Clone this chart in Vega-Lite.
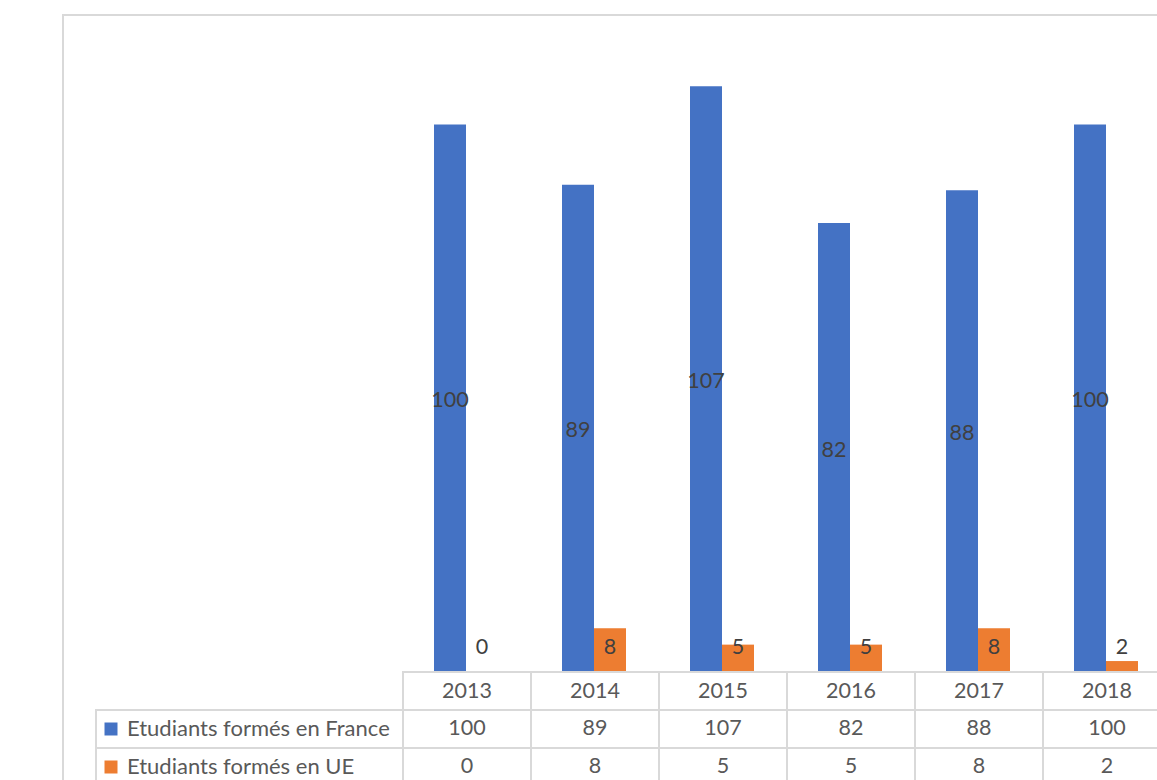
{
  "$schema": "https://vega.github.io/schema/vega-lite/v6.json",
  "width": 1124,
  "height": 795,
  "autosize": "none",
  "padding": {"left": 63, "top": 15, "right": -30, "bottom": -30},
  "background": "white",
  "config": {
    "view": {"stroke": "#d9d9d9", "strokeWidth": 2},
    "font": "Lato",
    "text": {"font": "Lato"}
  },
  "datasets": {
    "main": [
      {"year": "2013", "series": "Etudiants formés en France", "value": 100},
      {"year": "2014", "series": "Etudiants formés en France", "value": 89},
      {"year": "2015", "series": "Etudiants formés en France", "value": 107},
      {"year": "2016", "series": "Etudiants formés en France", "value": 82},
      {"year": "2017", "series": "Etudiants formés en France", "value": 88},
      {"year": "2018", "series": "Etudiants formés en France", "value": 100},
      {"year": "2013", "series": "Etudiants formés en UE", "value": 0},
      {"year": "2014", "series": "Etudiants formés en UE", "value": 8},
      {"year": "2015", "series": "Etudiants formés en UE", "value": 5},
      {"year": "2016", "series": "Etudiants formés en UE", "value": 5},
      {"year": "2017", "series": "Etudiants formés en UE", "value": 8},
      {"year": "2018", "series": "Etudiants formés en UE", "value": 2}
    ]
  },
  "data": {"name": "main"},
  "resolve": {"scale": {"x": "independent", "y": "independent"}},
  "layer": [
    {
      "layer": [
        {
          "mark": {"type": "bar"},
          "encoding": {
            "x": {"field": "year", "type": "ordinal", "axis": null,
              "scale": {"domain": ["2013","2014","2015","2016","2017","2018"], "range": [339, 1107], "paddingInner": 0, "paddingOuter": 0}},
            "xOffset": {"field": "series", "type": "nominal",
              "scale": {"domain": ["Etudiants formés en France", "Etudiants formés en UE"], "paddingInner": 0, "paddingOuter": 1}},
            "y": {"field": "value", "type": "quantitative", "axis": null,
              "scale": {"domain": [0, 120], "range": [657, 0], "nice": false, "zero": true}},
            "color": {"field": "series", "type": "nominal",
              "scale": {"domain": ["Etudiants formés en France", "Etudiants formés en UE"], "range": ["#4472C4", "#ED7D31"]},
              "legend": {
                "orient": "none", "legendX": 37, "legendY": 703, "title": null,
                "symbolType": "square", "symbolSize": 169, "symbolStrokeWidth": 0,
                "labelFont": "Lato", "labelFontSize": 22, "labelColor": "#595959",
                "labelOffset": 5, "rowPadding": 16, "padding": 0, "labelLimit": 400
              }}
          }
        },
        {
          "transform": [
            {"filter": "datum.series === 'Etudiants formés en France'"},
            {"calculate": "datum.value / 2", "as": "mid"}
          ],
          "mark": {"type": "text", "fontSize": 21.5, "color": "#404040", "baseline": "middle", "align": "center", "dy": 3},
          "encoding": {
            "x": {"field": "year", "type": "ordinal"},
            "xOffset": {"field": "series", "type": "nominal"},
            "y": {"field": "mid", "type": "quantitative"},
            "text": {"field": "value", "type": "quantitative"}
          }
        },
        {
          "transform": [
            {"filter": "datum.series === 'Etudiants formés en UE'"}
          ],
          "mark": {"type": "text", "fontSize": 21.5, "color": "#404040", "baseline": "middle", "align": "center"},
          "encoding": {
            "x": {"field": "year", "type": "ordinal"},
            "xOffset": {"field": "series", "type": "nominal"},
            "y": {"datum": 4.4, "type": "quantitative"},
            "text": {"field": "value", "type": "quantitative"}
          }
        }
      ]
    },
    {
      "layer": [
        {
          "mark": {"type": "rect", "fill": "white", "fillOpacity": 0, "stroke": "#d9d9d9", "strokeWidth": 2},
          "encoding": {
            "x": {"field": "year", "type": "ordinal", "axis": null,
              "scale": {"domain": ["2013","2014","2015","2016","2017","2018"], "range": [340, 1108], "paddingInner": 0, "paddingOuter": 0}},
            "y": {"field": "series", "type": "nominal", "axis": null,
              "scale": {"domain": ["header", "Etudiants formés en France", "Etudiants formés en UE"], "range": [657, 771], "paddingInner": 0, "paddingOuter": 0}}
          }
        },
        {
          "transform": [{"filter": "datum.series === 'Etudiants formés en France'"}],
          "mark": {"type": "rect", "fill": "white", "fillOpacity": 0, "stroke": "#d9d9d9", "strokeWidth": 2},
          "encoding": {
            "x": {"field": "year", "type": "ordinal"},
            "y": {"datum": "header", "type": "nominal"}
          }
        },
        {
          "transform": [{"filter": "datum.series === 'Etudiants formés en France'"}],
          "mark": {"type": "text", "fontSize": 21.5, "color": "#595959", "baseline": "middle", "align": "center", "dy": 1},
          "encoding": {
            "x": {"field": "year", "type": "ordinal", "bandPosition": 0.5},
            "y": {"datum": "header", "type": "nominal", "bandPosition": 0.5},
            "text": {"field": "year", "type": "nominal"}
          }
        },
        {
          "mark": {"type": "text", "fontSize": 21.5, "color": "#595959", "baseline": "middle", "align": "center"},
          "encoding": {
            "x": {"field": "year", "type": "ordinal", "bandPosition": 0.5},
            "y": {"field": "series", "type": "nominal", "bandPosition": 0.5},
            "text": {"field": "value", "type": "quantitative"}
          }
        }
      ]
    },
    {
      "transform": [{"filter": "datum.year === '2013'"}],
      "mark": {"type": "rect", "fill": "white", "fillOpacity": 0, "stroke": "#d9d9d9", "strokeWidth": 2},
      "encoding": {
        "x": {"datum": 0, "type": "quantitative", "axis": null, "scale": {"domain": [0, 1], "range": [33, 340], "nice": false, "zero": false}},
        "x2": {"datum": 1},
        "y": {"field": "series", "type": "nominal", "axis": null,
          "scale": {"domain": ["header", "Etudiants formés en France", "Etudiants formés en UE"], "range": [657, 771], "paddingInner": 0, "paddingOuter": 0}}
      }
    }
  ]
}
